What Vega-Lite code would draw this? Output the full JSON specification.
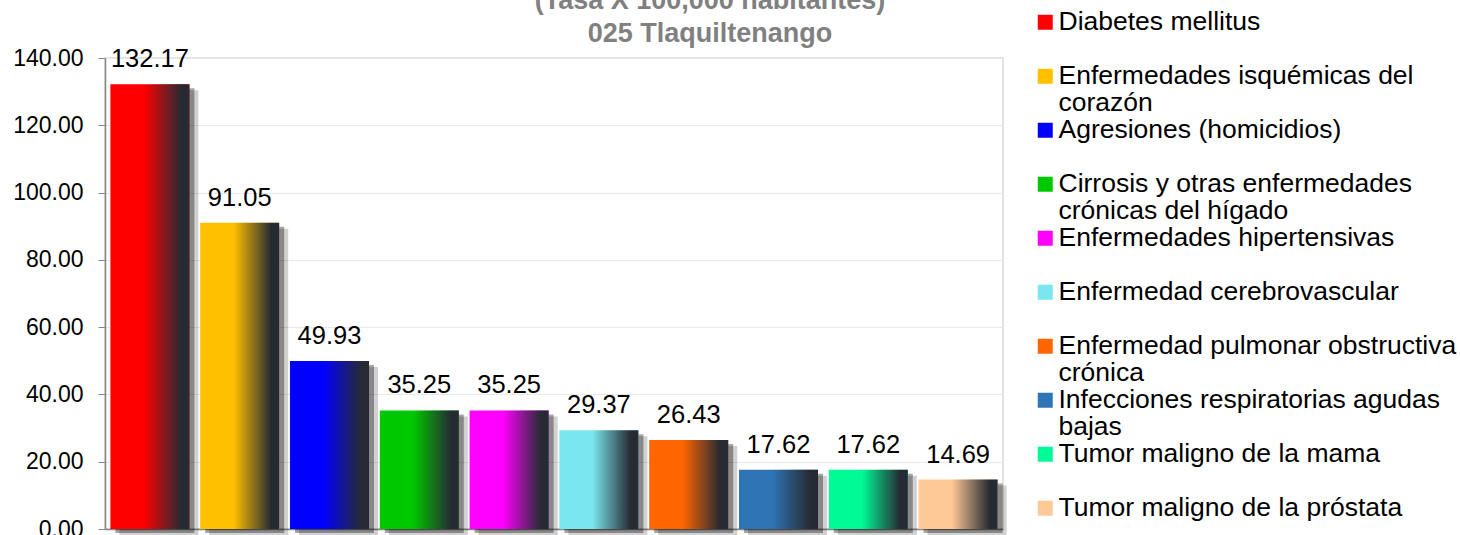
{
  "$schema": "https://vega.github.io/schema/vega-lite/v6.json",
  "width": 898,
  "height": 471,
  "autosize": {"type": "none"},
  "padding": {"left": 105, "top": 58, "right": 457, "bottom": 6},
  "background": "white",
  "title": {
    "text": ["(Tasa X 100,000 habitantes)", "025 Tlaquiltenango"],
    "font": "Liberation Sans",
    "fontSize": 27,
    "fontWeight": "bold",
    "color": "#808080",
    "anchor": "middle",
    "frame": "group",
    "baseline": "bottom",
    "lineHeight": 33,
    "offset": 0,
    "dy": 66,
    "dx": 156
  },
  "config": {
    "view": {"stroke": "#d9d9d9", "strokeWidth": 1.5},
    "font": "Liberation Sans"
  },
  "data": {
    "values": [
      {"causa": "Diabetes mellitus", "tasa": 132.17},
      {"causa": "Enfermedades isquémicas del corazón", "tasa": 91.05},
      {"causa": "Agresiones (homicidios)", "tasa": 49.93},
      {"causa": "Cirrosis y otras enfermedades crónicas del hígado", "tasa": 35.25},
      {"causa": "Enfermedades hipertensivas", "tasa": 35.25},
      {"causa": "Enfermedad cerebrovascular", "tasa": 29.37},
      {"causa": "Enfermedad pulmonar obstructiva crónica", "tasa": 26.43},
      {"causa": "Infecciones respiratorias agudas bajas", "tasa": 17.62},
      {"causa": "Tumor maligno de la mama", "tasa": 17.62},
      {"causa": "Tumor maligno de la próstata", "tasa": 14.69}
    ]
  },
  "encoding": {
    "x": {
      "field": "causa",
      "type": "nominal",
      "sort": null,
      "scale": {"paddingInner": 0.12, "paddingOuter": 0.06},
      "axis": {"labels": false, "ticks": false, "title": null, "grid": false, "domainColor": "#868686", "domainWidth": 1.5}
    },
    "y": {
      "field": "tasa",
      "type": "quantitative",
      "scale": {"domain": [0, 140], "nice": false},
      "axis": {
        "values": [0, 20, 40, 60, 80, 100, 120, 140],
        "format": ".2f",
        "title": null,
        "labelFont": "Liberation Sans",
        "labelFontSize": 23,
        "labelColor": "black",
        "labelPadding": 15,
        "tickSize": 7,
        "tickColor": "#868686",
        "domainColor": "#868686",
        "domainWidth": 1.5,
        "gridColor": "#e8e8e8",
        "gridWidth": 1
      }
    }
  },
  "layer": [
    {"mark": {"type": "bar", "color": "black", "opacity": 0.18, "xOffset": 9, "yOffset": 6}},
    {"mark": {"type": "bar", "color": "black", "opacity": 0.35, "xOffset": 5, "yOffset": 4}},
    {
      "mark": {"type": "bar"},
      "encoding": {
        "color": {
          "field": "causa",
          "type": "nominal",
          "sort": null,
          "scale": {
            "domain": [
              "Diabetes mellitus",
              "Enfermedades isquémicas del corazón",
              "Agresiones (homicidios)",
              "Cirrosis y otras enfermedades crónicas del hígado",
              "Enfermedades hipertensivas",
              "Enfermedad cerebrovascular",
              "Enfermedad pulmonar obstructiva crónica",
              "Infecciones respiratorias agudas bajas",
              "Tumor maligno de la mama",
              "Tumor maligno de la próstata"
            ],
            "range": ["#ff0000", "#ffc000", "#0000ff", "#00c800", "#ff00ff", "#7ae6ee", "#ff6600", "#2e75b6", "#00fa96", "#ffc896"]
          },
          "legend": {
            "orient": "none",
            "legendX": 927,
            "legendY": -49,
            "title": null,
            "symbolType": "square",
            "symbolSize": 225,
            "symbolStrokeWidth": 0,
            "labelFont": "Liberation Sans",
            "labelFontSize": 26.5,
            "labelColor": "black",
            "labelLimit": 600,
            "labelOffset": 0,
            "rowPadding": 0,
            "labelExpr": "datum.label == 'Enfermedades isquémicas del corazón' ? ['Enfermedades isquémicas del', 'corazón'] : datum.label == 'Cirrosis y otras enfermedades crónicas del hígado' ? ['Cirrosis y otras enfermedades', 'crónicas del hígado'] : datum.label == 'Enfermedad pulmonar obstructiva crónica' ? ['Enfermedad pulmonar obstructiva', 'crónica'] : datum.label == 'Infecciones respiratorias agudas bajas' ? ['Infecciones respiratorias agudas', 'bajas'] : [datum.label, '']",
            "labelBaseline": "middle",
            "encode": {"labels": {"update": {"lineHeight": {"value": 26.7}}}}
          }
        }
      }
    },
    {
      "mark": {
        "type": "bar",
        "fill": {
          "gradient": "linear",
          "x1": 0, "x2": 1, "y1": 0, "y2": 0,
          "stops": [
            {"offset": 0, "color": "rgba(38,43,51,0)"},
            {"offset": 0.42, "color": "rgba(38,43,51,0)"},
            {"offset": 0.9, "color": "rgba(38,43,51,1)"},
            {"offset": 1, "color": "rgba(38,43,51,1)"}
          ]
        }
      }
    },
    {
      "mark": {"type": "text", "baseline": "alphabetic", "dy": -17, "font": "Liberation Sans", "fontSize": 25.5, "color": "black"},
      "encoding": {"text": {"field": "tasa", "type": "quantitative", "format": ".2f"}}
    }
  ]
}
